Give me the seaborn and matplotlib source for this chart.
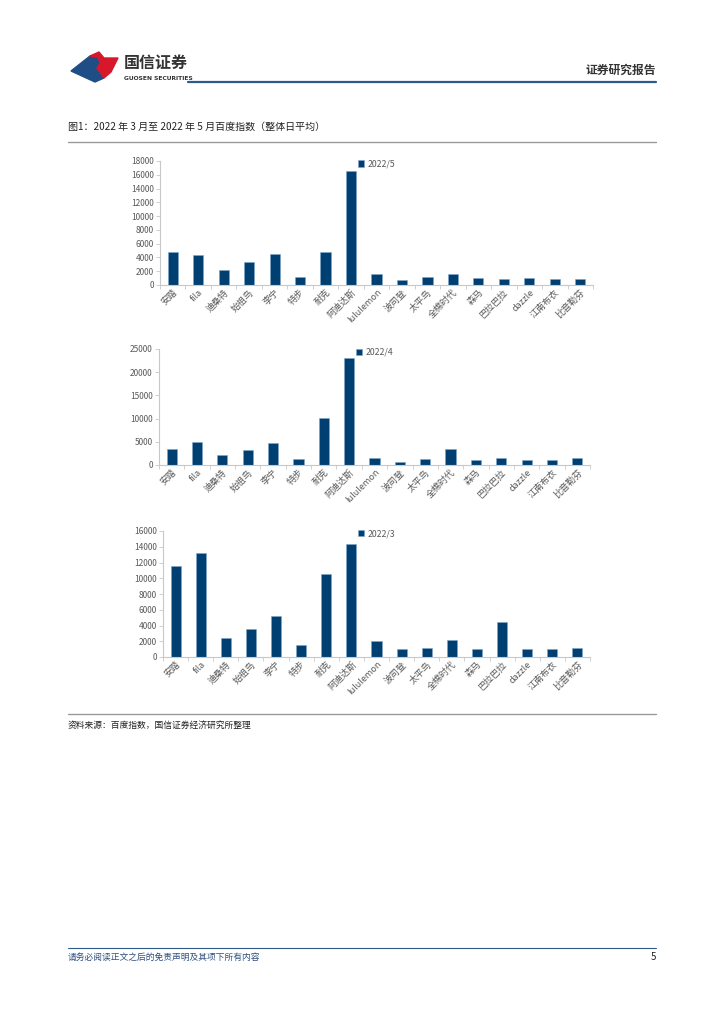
import matplotlib
matplotlib.use("Agg")
import matplotlib.pyplot as plt
import seaborn as sns
import pandas as pd
from matplotlib.patches import Polygon
from matplotlib.lines import Line2D

sns.set_style("white")
plt.rcParams['font.family'] = ['Noto Sans CJK SC', 'DejaVu Sans']

# --- 数据 ---
brands = ['安踏', 'fila', '迪桑特', '始祖鸟', '李宁', '特步', '耐克', '阿迪达斯', 'lululemon',
          '波司登', '太平鸟', '全棉时代', '森马', '巴拉巴拉', 'dazzle', '江南布衣', '比音勒芬']
may_vals = [4750, 4300, 2200, 3350, 4500, 1150, 4850, 16550, 1550,
            700, 1100, 1550, 1000, 900, 1000, 800, 900]
apr_vals = [3400, 5000, 2050, 3150, 4700, 1300, 10050, 23000, 1600,
            650, 1300, 3400, 1100, 1600, 1000, 1000, 1600]
mar_vals = [11600, 13150, 2450, 3500, 5200, 1550, 10600, 14300, 2000,
            1000, 1200, 2200, 1050, 4450, 1050, 1000, 1200]
month_labels = ['2022/5', '2022/4', '2022/3']
y_max = [18000, 25000, 16000]
y_step = [2000, 5000, 2000]

bar_color = '#003f72'
axis_gray = '#c8c8c8'
text_gray = '#595959'

W, H = 724, 1024
fig = plt.figure(figsize=(7.24, 10.24), dpi=100)


def px(x, y):
    return x / W, 1 - y / H


# --- 页眉 ---
logo_blue = [(71, 71), (90, 56), (98, 57), (100, 63), (97, 68), (104, 78), (95, 82)]
logo_red = [(90, 56), (99, 52), (104, 58), (118, 58), (111, 72), (104, 78), (97, 68), (100, 63), (98, 57)]
fig.patches.append(Polygon([px(*p) for p in logo_blue], closed=True, color='#1f4e86',
                           transform=fig.transFigure, figure=fig))
fig.patches.append(Polygon([px(*p) for p in logo_red], closed=True, color='#d7182a',
                           transform=fig.transFigure, figure=fig))
fig.text(*px(124, 63), '国信证券', fontsize=11.5, fontweight='bold', color='#333333', va='center')
fig.text(*px(124, 78), 'GUOSEN SECURITIES', fontsize=4.3, fontweight='bold', color='#333333',
         va='center', family=['DejaVu Sans'])
fig.text(*px(656, 70), '证券研究报告', fontsize=8.5, fontweight='bold', color='#333333',
         va='center', ha='right')
fig.lines.append(Line2D([188 / W, 656 / W], [1 - 82 / H] * 2, color='#2e5b8c', lw=1.6,
                        transform=fig.transFigure))

# --- 标题 ---
fig.text(*px(68, 127), '图1：2022 年 3 月至 2022 年 5 月百度指数（整体日平均）', fontsize=7.2,
         color='#222222', va='center')
fig.lines.append(Line2D([68 / W, 656 / W], [1 - 142 / H] * 2, color='#9a9a9a', lw=1.0,
                        transform=fig.transFigure))

# --- 三个柱状图 ---
boxes = [(160, 161, 593, 285), (159, 349, 590, 465), (163, 531, 590, 657)]
all_vals = [may_vals, apr_vals, mar_vals]

for (x0, y0, x1, y1), vals, lab, ym, st in zip(boxes, all_vals, month_labels, y_max, y_step):
    ax = fig.add_axes([x0 / W, 1 - y1 / H, (x1 - x0) / W, (y1 - y0) / H])
    df = pd.DataFrame({'brand': brands, 'value': vals})
    sns.barplot(data=df, x='brand', y='value', color=bar_color, width=0.4, ax=ax,
                edgecolor='#7fa6c9', linewidth=0.4, label=lab, saturation=1)
    ax.set_xlim(-0.5, len(brands) - 0.5)
    ax.set_ylim(0, ym)
    ax.set_yticks(range(0, ym + 1, st))
    ax.set_xlabel('')
    ax.set_ylabel('')
    for s in ['top', 'right']:
        ax.spines[s].set_visible(False)
    for s in ['left', 'bottom']:
        ax.spines[s].set_color(axis_gray)
        ax.spines[s].set_linewidth(0.8)
    ax.tick_params(axis='y', length=3, width=0.6, color=axis_gray, labelsize=6,
                   labelcolor=text_gray, pad=1.5, left=True)
    ax.tick_params(axis='x', which='major', length=0, labelsize=6.5, labelcolor=text_gray, pad=2)
    ax.set_xticks([i + 0.5 for i in range(-1, len(brands))], minor=True)
    ax.tick_params(axis='x', which='minor', length=3, width=0.6, color=axis_gray, bottom=True)
    ax.set_xticks(range(len(brands)))
    ax.set_xticklabels(brands, rotation=45, ha='right', rotation_mode='anchor')
    ax.legend(loc='upper center', bbox_to_anchor=(0.5, 1.04), frameon=False, fontsize=6.3,
              handlelength=0.7, handleheight=0.7, handletextpad=0.4, labelcolor=text_gray,
              borderaxespad=0)

# --- 资料来源 ---
fig.lines.append(Line2D([68 / W, 656 / W], [1 - 714 / H] * 2, color='#9a9a9a', lw=1.0,
                        transform=fig.transFigure))
fig.text(*px(68, 725), '资料来源：百度指数，国信证券经济研究所整理', fontsize=6.3, color='#222222',
         va='center')

# --- 页脚 ---
fig.lines.append(Line2D([68 / W, 656 / W], [1 - 948 / H] * 2, color='#2e5b8c', lw=0.8,
                        transform=fig.transFigure))
fig.text(*px(68, 957), '请务必阅读正文之后的免责声明及其项下所有内容', fontsize=6.3, color='#2e4f7e',
         va='center', style='italic')
fig.text(*px(656, 957), '5', fontsize=7, color='#222222', va='center', ha='right')

fig.savefig('out.png', dpi=100)
